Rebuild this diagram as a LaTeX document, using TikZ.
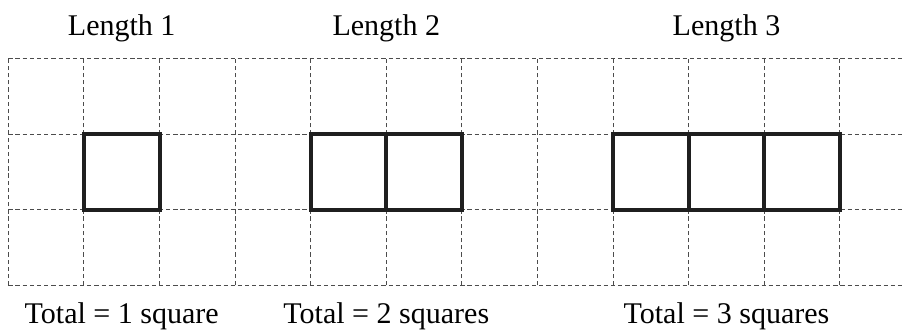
\documentclass[tikz,border=0pt]{standalone}
\usepackage{fontspec}
\setmainfont{Liberation Serif}
\begin{document}
\begin{tikzpicture}[x=1cm, y=1cm, font=\fontsize{11.3}{13}\selectfont]

    \colorlet{gridGray}{black!70}   % dashed squared paper
    \colorlet{boxBlack}{black!88}   % the squares themselves

  \tikzset{gridline/.style={gridGray, line width=0.4pt, dash pattern=on 1.6pt off 1.1pt},
           boxline/.style={boxBlack, line width=1.5pt, line join=miter}}

  \useasboundingbox (-0.11,-0.605) rectangle (11.848,3.774);

  % grid
  \foreach \y in {0,...,3}
  \draw[gridline] (0,\y) -- (11.848,\y);
  \foreach \x in {0,...,11}
  \draw[gridline] (\x,0) -- (\x,3);

  % the rows of squares: length 1, 2, 3
  \draw[boxline] (1,1) rectangle (2,2);
  \draw[boxline] (4,1) rectangle (6,2) (5,1) -- (5,2);
  \draw[boxline] (8,1) rectangle (11,2) (9,1) -- (9,2) (10,1) -- (10,2);

  % labels above and below
  \node[anchor=base] (lenOne)   at (1.5,3.311) {Length 1};
  \node[anchor=base] (lenTwo)   at (5,3.311)   {Length 2};
  \node[anchor=base] (lenThree) at (9.5,3.311) {Length 3};
  \node[anchor=base] (totOne)   at (1.5,-0.5)  {Total = 1 square};
  \node[anchor=base] (totTwo)   at (5,-0.5)    {Total = 2 squares};
  \node[anchor=base] (totThree) at (9.5,-0.5)  {Total = 3 squares};

\end{tikzpicture}
\end{document}
